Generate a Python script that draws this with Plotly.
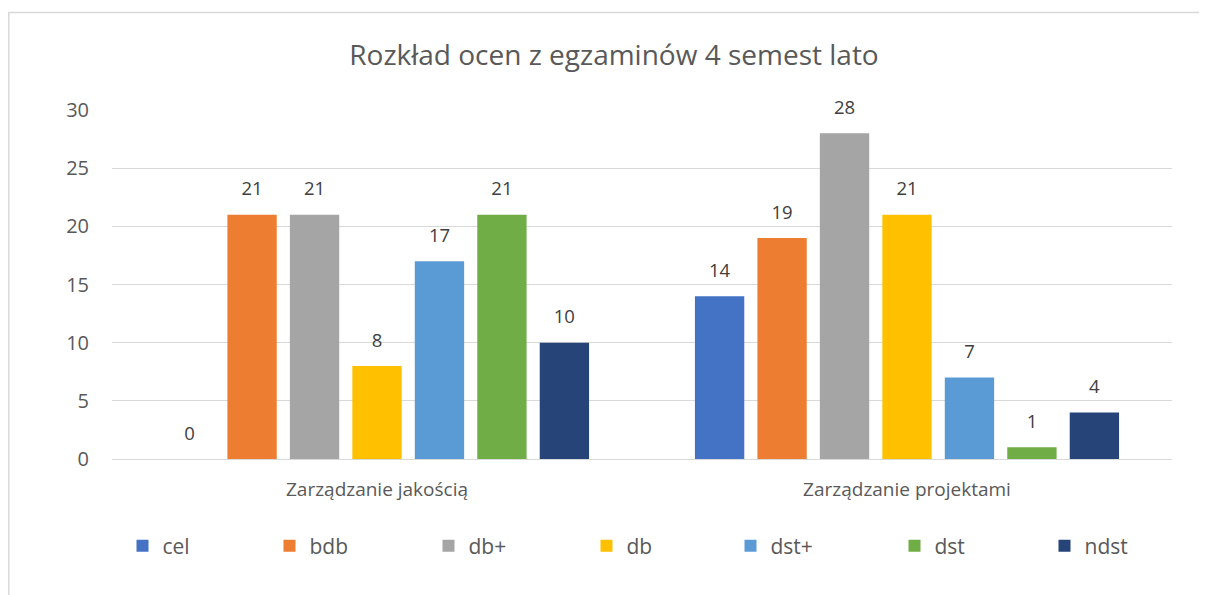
import plotly.graph_objects as go

categories = ["Zarządzanie jakością", "Zarządzanie projektami"]
series_names = ["cel", "bdb", "db+", "db", "dst+", "dst", "ndst"]
cel = [0, 14]
bdb = [21, 19]
db_plus = [21, 28]
db = [8, 21]
dst_plus = [17, 7]
dst = [21, 1]
ndst = [10, 4]
series_values = [cel, bdb, db_plus, db, dst_plus, dst, ndst]
colors = ["#4472C4", "#ED7D31", "#A5A5A5", "#FFC000", "#5B9BD5", "#70AD47", "#264478"]
title_text = "Rozkład ocen z egzaminów 4 semest lato"

FONT = "Open Sans"
TXT = "#595959"

# page body has an 8px margin; work in page coordinates and subtract it
OFF = 8
W, H = 1207 - OFF, 595 - OFF
PL, PR, PT, PB = 112, 1172, 110, 459  # plot area in page pixels
L, R, T, B = PL - OFF, W - (PR - OFF), PT - OFF, H - (PB - OFF)
pw, ph = W - L - R, H - T - B

def px(x):
    return (x - OFF - L) / pw

def py(y):
    return (H - B - (y - OFF)) / ph

legend_square_left = [135, 282, 441, 599, 743, 907, 1057]

fig = go.Figure()
for i, (name, vals, col) in enumerate(zip(series_names, series_values, colors)):
    lg = "legend" if i == 0 else f"legend{i + 1}"
    fig.add_trace(go.Bar(
        name=name, x=categories, y=vals,
        marker=dict(color=col, line=dict(width=0)),
        offsetgroup=name, legend=lg,
    ))
    fig.add_trace(go.Scatter(
        name=name, x=categories, y=vals, mode="markers+text",
        marker=dict(size=22, opacity=0),
        text=[str(v) for v in vals], textposition="top center",
        textfont=dict(family=FONT, size=18.5, color="#404040"),
        offsetgroup=name, showlegend=False, cliponaxis=False, hoverinfo="skip",
    ))

fig.add_shape(type="rect", xref="paper", yref="paper",
              x0=px(8.8), x1=px(1225), y0=py(620), y1=py(12.5),
              line=dict(color="#D9D9D9", width=1.5), fillcolor="rgba(0,0,0,0)", layer="below")

legends = {}
for i, left in enumerate(legend_square_left):
    key = "legend" if i == 0 else f"legend{i + 1}"
    legends[key] = dict(orientation="h", x=px(left - 12.5), xanchor="left",
                        y=py(546), yanchor="middle",
                        font=dict(family=FONT, size=21, color=TXT),
                        itemwidth=30, bgcolor="rgba(0,0,0,0)")

fig.update_layout(
    width=W, height=H,
    margin=dict(l=L, r=R, t=T, b=B),
    paper_bgcolor="white", plot_bgcolor="white",
    barmode="group", bargap=0.175, bargroupgap=0.21,
    scattermode="group", scattergap=0.175,
    title=dict(text=title_text, x=(614 - OFF) / W, xref="container", xanchor="center",
               y=1 - (55 - OFF) / H, yanchor="middle",
               font=dict(family=FONT, size=28, color=TXT)),
    font=dict(family=FONT, color=TXT),
    xaxis=dict(showgrid=False, showline=False, ticks="",
               tickfont=dict(family=FONT, size=19, color=TXT),
               ticklabelstandoff=17),
    yaxis=dict(range=[0, 30], dtick=5, showgrid=True, gridcolor="#D9D9D9", gridwidth=1.3,
               zeroline=True, zerolinecolor="#D9D9D9", zerolinewidth=1.3,
               showline=False, ticks="",
               tickfont=dict(family=FONT, size=20, color=TXT),
               ticklabelstandoff=22),
    showlegend=True,
    **legends,
)

fig.write_html("out.html")
